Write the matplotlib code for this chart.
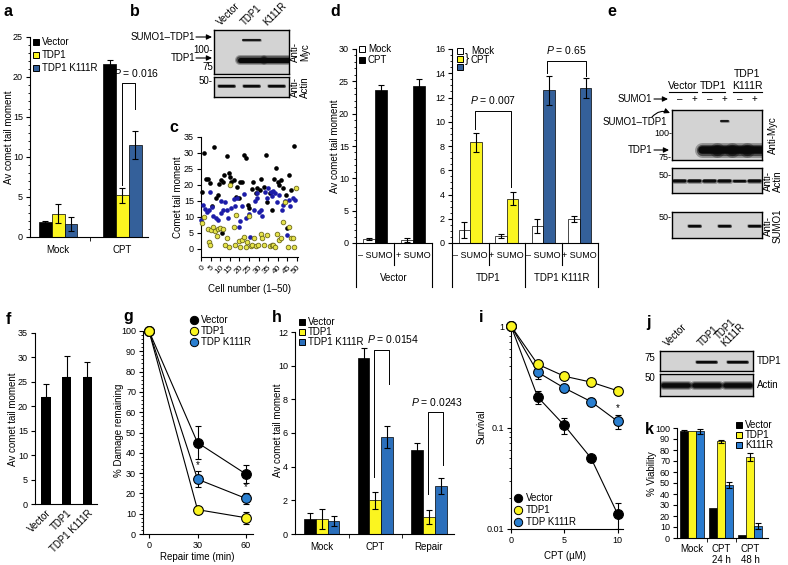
import numpy as np
import matplotlib
matplotlib.use("Agg")
import matplotlib.pyplot as plt
from matplotlib.ticker import MultipleLocator, LogLocator, NullFormatter
from matplotlib.transforms import blended_transform_factory

plt.rcParams['font.family'] = ['Liberation Sans', 'DejaVu Sans']
plt.rcParams['font.size'] = 7
plt.rcParams['mathtext.fontset'] = 'custom'
plt.rcParams['mathtext.it'] = 'Liberation Sans:italic'
plt.rcParams['mathtext.rm'] = 'Liberation Sans'
plt.rcParams['axes.linewidth'] = 0.8
for k in ['xtick', 'ytick']:
    plt.rcParams[k + '.major.width'] = 0.8
    plt.rcParams[k + '.minor.width'] = 0.6
    plt.rcParams[k + '.major.size'] = 3
    plt.rcParams[k + '.minor.size'] = 1.5
    plt.rcParams[k + '.major.pad'] = 2
    plt.rcParams[k + '.labelsize'] = 6.5

# ---------------- data ----------------
# a
a_groups = ['Mock', 'CPT']
a_vector = [1.9, 21.6]
a_vector_err = [0.15, 0.5]
a_tdp1 = [2.9, 5.2]
a_tdp1_err = [1.2, 0.9]
a_k111r = [1.6, 11.5]
a_k111r_err = [0.85, 1.8]

# c  (cell number, comet tail moment)
c_vec_x = [0.7, 1.5, 2.6, 3.9, 4.8, 5.6, 6.8, 7.9, 8.6, 9.6, 10.5, 10.9, 11.4, 12.1, 13.5, 14.4, 15.3,
           15.8, 17, 18.3, 19, 19.6, 20.5, 21.4, 22.3, 23.2, 24.4, 25, 26.4, 27, 28.4, 29.3, 30.5, 31.4,
           32.8, 33.7, 34.6, 35.8, 37.2, 38.1, 39, 39.9, 40.8, 41.7, 42.8, 44, 44.9, 45.6, 47, 48.4]
c_vec_y = [17.9, 29.9, 22, 22, 20.7, 13.5, 31.9, 15.8, 17, 20.2, 21.6, 5.1, 21, 23.1, 29.2, 23.6, 22.6,
           21, 21.6, 16.4, 19.5, 16, 21, 21, 29.4, 28.3, 13.8, 12.7, 18.6, 21, 17.4, 19, 18.4, 22,
           19.5, 29.4, 14.8, 17.4, 12.2, 22, 25.2, 21, 20, 21.6, 19, 16.9, 6.5, 23.1, 18.4, 32.2]
c_k111r_x = [0, 1.2, 2, 3, 4.2, 4.7, 5.6, 6.5, 7.7, 9.1, 10.2, 10.5, 11.2, 12.6, 13.5, 14, 15.8, 17,
             17.5, 18.8, 20, 20.5, 21.4, 22.3, 23.2, 25, 25.4, 27.5, 28, 29, 29.3, 30.2, 31, 31.9, 33.3,
             34.2, 35.1, 36.3, 37, 37.5, 38.4, 39.8, 40.7, 42, 42.8, 43.9, 44.6, 45.6, 46.5, 47.7, 49]
c_k111r_y = [9, 13.8, 12.5, 11.7, 12.3, 17.7, 13, 10.2, 9.7, 9.1, 11.2, 15.1, 12.3, 14.6, 12.3, 9.7, 12.8,
             15.6, 13.3, 16, 6.9, 8.6, 13.3, 17.3, 9.7, 10.8, 3.6, 12.2, 15.1, 16, 17.4, 11.7, 12.2, 10.3,
             17.9, 16, 19, 17.9, 16.5, 18.1, 17.6, 14.8, 16.9, 12.2, 13.8, 15.1, 4.4, 15.3, 13.4, 15.8, 15.3]
c_tdp1_x = [0.7, 1.8, 3.9, 4.2, 4.7, 5.3, 6.5, 7.4, 8.2, 9.1, 10, 11.2, 12.3, 13.5, 14.4, 15.3, 17, 17.5,
            18.4, 19.6, 20.5, 21.4, 22.3, 23.2, 24.1, 25, 25.8, 26.7, 27.5, 28.4, 29.8, 31, 31.9, 32.8,
            34.6, 35.8, 36.8, 37.5, 38.4, 39.8, 40.7, 41.6, 42.8, 43.9, 45.1, 46, 46.9, 47.7, 48.6, 49.5]
c_tdp1_y = [8.2, 9.9, 6.1, 2.3, 1.3, 5.9, 7, 5.7, 4.1, 6.1, 6.5, 6.1, 1.3, 3.3, 0.7, 20, 6.8, 1.3,
            10.6, 2.6, 0.7, 2.8, 3.9, 0.7, 2.3, 10.3, 0.9, 1.3, 3.3, 0.9, 1.3, 4.7, 3.3, 1.3,
            4.4, 0.9, 1.3, 1.3, 0.7, 4.7, 2.8, 3.3, 8.5, 14.8, 0.7, 7, 3.3, 3.3, 0.7, 19]

# d
d_vec_groups = ['– SUMO', '+ SUMO']
d_vec_mock = [0.6, 0.5]
d_vec_mock_err = [0.15, 0.3]
d_vec_cpt = [23.7, 24.3]
d_vec_cpt_err = [0.8, 1.0]
d_groups = ['– SUMO', '+ SUMO', '– SUMO', '+ SUMO']
d_mock = [1.05, 0.6, 1.4, 2.0]
d_mock_err = [0.65, 0.15, 0.55, 0.25]
d_cpt = [8.3, 3.65, 12.6, 12.8]
d_cpt_err = [0.8, 0.55, 1.2, 0.8]

# f
f_labels = ['Vector', 'TDP1', 'TDP1 K111R']
f_values = [22, 26, 26]
f_err = [2.5, 4.3, 3.0]

# g
g_time = [0, 30, 60]
g_vector = [100, 45, 29.5]
g_vector_err = [0, 8, 4.5]
g_tdp1 = [100, 12, 8]
g_tdp1_err = [0, 1, 3]
g_k111r = [100, 27, 17.5]
g_k111r_err = [0, 4, 2.5]

# h
h_groups = ['Mock', 'CPT', 'Repair']
h_vector = [0.9, 10.45, 5.0]
h_vector_err = [0.35, 0.6, 0.4]
h_tdp1 = [0.9, 2.0, 1.0]
h_tdp1_err = [0.6, 0.5, 0.4]
h_k111r = [0.75, 5.75, 2.85]
h_k111r_err = [0.3, 0.65, 0.5]

# i
i_dose = [0, 2.5, 5, 7.5, 10]
i_vector = [1, 0.2, 0.105, 0.05, 0.014]
i_vector_err = [0, 0.03, 0.018, 0.003, 0.004]
i_tdp1 = [1, 0.42, 0.32, 0.28, 0.23]
i_tdp1_err = [0, 0.03, 0.02, 0.02, 0.02]
i_k111r = [1, 0.35, 0.245, 0.18, 0.115]
i_k111r_err = [0, 0.05, 0.02, 0.015, 0.018]

# k
k_groups = ['Mock', 'CPT\n24 h', 'CPT\n48 h']
k_vector = [97, 27.5, 3]
k_vector_err = [1.5, 0, 0]
k_tdp1 = [97, 88, 73.5]
k_tdp1_err = [0, 1.5, 3.5]
k_k111r = [97, 48, 11]
k_k111r_err = [2, 2.5, 3]

YEL = '#fbf520'
BLUE_A = '#34609a'
BLUE_H = '#2b6fbb'
BLUE_K = '#2a7bcf'
BLUE_PT = '#2a7fd0'

W, H = 788, 565
fig = plt.figure(figsize=(W / 100, H / 100), dpi=100)

ov = fig.add_axes([0, 0, 1, 1], zorder=10)
ov.set_xlim(0, W)
ov.set_ylim(H, 0)
ov.axis('off')


def px_axes(x0, y0, x1, y1):
    return fig.add_axes([x0 / W, 1 - y1 / H, (x1 - x0) / W, (y1 - y0) / H])


def clean(ax):
    ax.spines['top'].set_visible(False)
    ax.spines['right'].set_visible(False)


def cat_axis(ax, labels, pad=4):
    n = len(labels)
    ax.set_xticks(range(n))
    ax.set_xticklabels(labels, fontsize=7)
    ax.set_xticks(np.arange(n - 1) + 0.5, minor=True)
    ax.tick_params(axis='x', which='major', length=0, pad=pad)
    ax.tick_params(axis='x', which='minor', length=3)


def bars(ax, series, errs, colors, width):
    n = len(series)
    offs = (np.arange(n) - (n - 1) / 2) * width
    for vals, err, col, off in zip(series, errs, colors, offs):
        x = np.arange(len(vals)) + off
        ax.bar(x, vals, width, color=col, edgecolor='black', linewidth=0.5, zorder=2)
        err = np.asarray(err, float)
        m = err > 0
        ax.errorbar(x[m], np.asarray(vals, float)[m], yerr=err[m], fmt='none', ecolor='black',
                    elinewidth=0.8, capsize=2.5, capthick=0.8, zorder=3)


def bracket(ax, x0, x1, y0, y1, top, label, tx, ty):
    ax.plot([x0, x0, x1, x1], [y0, top, top, y1], color='black', lw=0.7, clip_on=False, zorder=4)
    ax.text(tx, ty, label, ha='center', va='bottom', fontsize=7.5)


def blot(x0, y0, x1, y1, n):
    ax = px_axes(x0, y0, x1, y1)
    ax.set_xlim(0, n)
    ax.set_ylim(1, 0)
    ax.set_xticks([])
    ax.set_yticks([])
    ax.set_facecolor('#d3d3d3')
    for s in ax.spines.values():
        s.set_linewidth(1.0)
    return ax


def band(ax, lane, y, thick, half=0.4):
    for f, a in [(1.0, 0.3), (0.75, 0.55), (0.5, 1.0)]:
        ax.plot([lane + 0.5 - half, lane + 0.5 + half], [y, y], lw=thick * 0.72 * f,
                color='#0a0a0a', alpha=a, solid_capstyle='round')


def key(x, y, label, fc, ec='black', marker='s', ms=4.5, dx=6):
    ov.plot([x], [y], marker=marker, ms=ms, mfc=fc, mec=ec, mew=0.7, ls='none')
    if label:
        ov.text(x + dx, y, label, va='center', ha='left')


def arrow(x0, y0, x1, y1, rad=0.0):
    ov.annotate('', xy=(x1, y1), xytext=(x0, y0),
                arrowprops=dict(arrowstyle='-|>,head_length=0.45,head_width=0.22', lw=0.8,
                                color='black', shrinkA=0, shrinkB=0,
                                connectionstyle='arc3,rad=%s' % rad))


def letter(x, y, s):
    ov.text(x, y, s, fontsize=11.5, fontweight='bold', ha='center', va='center')


# ---------------- a ----------------
ax = px_axes(30, 37, 148, 237)
clean(ax)
bars(ax, [a_vector, a_tdp1, a_k111r], [a_vector_err, a_tdp1_err, a_k111r_err],
     ['black', YEL, BLUE_A], 0.2)
ax.set_ylim(0, 25)
cat_axis(ax, a_groups, pad=6)
ax.set_xlim(-0.44, 1.4)
ax.yaxis.set_major_locator(MultipleLocator(5))
ax.yaxis.set_minor_locator(MultipleLocator(1))
bracket(ax, 1.0, 1.2, 6.5, 16.0, 19.3, '$P$ = 0.016', 1.22, 19.7)
key(36, 42, 'Vector', 'black')
key(36, 55, 'TDP1', YEL)
key(36, 68, 'TDP1 K111R', BLUE_A)
ov.text(9, 137, 'Av comet tail moment', rotation=90, ha='center', va='center')
letter(8, 12, 'a')

# ---------------- b ----------------
bt = blot(214, 30, 289, 74, 3)
band(bt, 1, 0.23, 3, half=0.33)
band(bt, 1, 0.68, 10, half=0.45)
band(bt, 2, 0.68, 10, half=0.45)
bb = blot(214, 77, 289, 97, 3)
for ln in range(3):
    band(bb, ln, 0.45, 4, half=0.3)
for xl, s in [(222, 'Vector'), (246, 'TDP1'), (269, 'K111R')]:
    ov.text(xl, 27, s, rotation=45, ha='left', va='bottom', rotation_mode='anchor')
ov.text(195, 37, 'SUMO1–TDP1', ha='right', va='center')
arrow(196, 37, 212, 37)
ov.text(195, 58, 'TDP1', ha='right', va='center')
arrow(196, 58, 212, 58)
ov.text(213, 50, '100-', ha='right', va='center')
ov.text(213, 67, '75', ha='right', va='center')
ov.text(213, 81, '50-', ha='right', va='center')
ov.text(300, 52, 'Anti-\nMyc', rotation=90, ha='center', va='center', linespacing=1.0)
ov.text(300, 87, 'Anti-\nActin', rotation=90, ha='center', va='center', linespacing=1.0)
letter(135, 12, 'b')

# ---------------- c ----------------
ax = px_axes(201, 137, 298, 257)
clean(ax)
ax.scatter(c_vec_x, c_vec_y, s=11, c='black', lw=0, clip_on=False, zorder=3)
ax.scatter(c_k111r_x, c_k111r_y, s=11, c='#1c1ca8', lw=0, clip_on=False, zorder=3)
ax.scatter(c_tdp1_x, c_tdp1_y, s=11, c='#e6e44a', edgecolors='#6e6a1a', lw=0.6, clip_on=False, zorder=3)
ax.set_xlim(0, 50.5)
ax.set_ylim(-2.5, 35)
ax.set_yticks(range(0, 36, 5))
ax.set_xticks(range(0, 51, 5))
ax.set_xticklabels([str(v) for v in range(0, 51, 5)], rotation=45, ha='right',
                   rotation_mode='anchor', fontsize=6)
ov.text(178, 197, 'Comet tail moment', rotation=90, ha='center', va='center')
ov.text(250, 289, 'Cell number (1–50)', ha='center', va='center')
letter(174, 128, 'c')

# ---------------- d ----------------
def table(ax, longs, shorts, sub, subpos, groups, gpos, hpx):
    tr = blended_transform_factory(ax.transData, ax.transAxes)
    for x in longs:
        ax.plot([x, x], [0, -44 / hpx], color='black', lw=0.8, transform=tr, clip_on=False)
    for x in shorts:
        ax.plot([x, x], [0, -22 / hpx], color='black', lw=0.8, transform=tr, clip_on=False)
    for x, s in zip(subpos, sub):
        ax.text(x, -13 / hpx, s, transform=tr, ha='center', va='center', fontsize=6.5)
    for x, s in zip(gpos, groups):
        ax.text(x, -35 / hpx, s, transform=tr, ha='center', va='center')


axL = px_axes(356, 49, 432, 243)
clean(axL)
bars(axL, [d_vec_mock, d_vec_cpt], [d_vec_mock_err, d_vec_cpt_err], ['white', 'black'], 0.32)
axL.set_xlim(-0.5, 1.5)
axL.set_ylim(0, 30)
axL.set_xticks([])
axL.yaxis.set_major_locator(MultipleLocator(5))
axL.yaxis.set_minor_locator(MultipleLocator(1))
table(axL, [-0.5, 1.5], [0.5], d_vec_groups, [0, 1], ['Vector'], [0.5], 194)

axR = px_axes(452, 49, 598, 243)
clean(axR)
xm = np.arange(len(d_mock)) - 0.16
xc = np.arange(len(d_cpt)) + 0.16
axR.bar(xm, d_mock, 0.32, color='white', edgecolor='black', linewidth=0.5, zorder=2)
axR.bar(xc, d_cpt, 0.32, color=[YEL, YEL, BLUE_A, BLUE_A], edgecolor='black', linewidth=0.5, zorder=2)
axR.errorbar(xm, d_mock, yerr=d_mock_err, fmt='none', ecolor='black', elinewidth=0.8, capsize=2.5, capthick=0.8, zorder=3)
axR.errorbar(xc, d_cpt, yerr=d_cpt_err, fmt='none', ecolor='black', elinewidth=0.8, capsize=2.5, capthick=0.8, zorder=3)
axR.set_xlim(-0.5, 3.5)
axR.set_ylim(0, 16)
axR.set_xticks([])
axR.yaxis.set_major_locator(MultipleLocator(2))
axR.yaxis.set_minor_locator(MultipleLocator(0.5))
table(axR, [-0.5, 1.5, 3.5], [0.5, 2.5], d_groups, [0, 1, 2, 3], ['TDP1', 'TDP1 K111R'], [0.5, 2.5], 194)
bracket(axR, 0.12, 1.12, 9.4, 4.6, 10.9, '$P$ = 0.007', 0.62, 11.3)
bracket(axR, 2.1, 3.18, 14.0, 13.8, 15.0, '$P$ = 0.65', 2.64, 15.4)

key(362, 49, 'Mock', 'white', dx=6)
key(362, 60, 'CPT', 'black', dx=6)
key(460, 51, 'Mock', 'white', dx=11)
key(460, 59, None, YEL)
key(460, 67, None, BLUE_A)
ov.text(465, 59, '}', ha='left', va='center', fontsize=9)
ov.text(471, 60, 'CPT', ha='left', va='center')
ov.text(335, 146, 'Av comet tail moment', rotation=90, ha='center', va='center')
letter(335, 12, 'd')

# ---------------- e ----------------
et = blot(672, 110, 762, 160, 6)
band(et, 3, 0.22, 3, half=0.25)
for ln in [2, 3, 4, 5]:
    band(et, ln, 0.8, 15, half=0.5)
em = blot(672, 168, 762, 193, 6)
for ln in range(6):
    band(em, ln, 0.5, 4 if ln == 4 else 5, half=0.38)
eb = blot(672, 212, 762, 238, 6)
for ln in [1, 3, 5]:
    band(eb, ln, 0.55, 4, half=0.35)
for cx, s, x0, x1 in [(683, 'Vector', 669, 697), (713, 'TDP1', 702, 725), (747, 'K111R', 733, 762)]:
    ov.text(cx, 86, s, ha='center', va='center', fontsize=7.5)
    ov.plot([x0, x1], [92, 92], color='black', lw=0.8)
ov.text(747, 74, 'TDP1', ha='center', va='center', fontsize=7.5)
for j, s in enumerate(['–', '+', '–', '+', '–', '+']):
    ov.text(679.5 + 15 * j, 99, s, ha='center', va='center', fontsize=7)
ov.text(652, 99, 'SUMO1', ha='right', va='center')
arrow(654, 99, 668, 99)
ov.text(667, 122, 'SUMO1–TDP1', ha='right', va='center')
arrow(652, 117, 670, 113, rad=-0.35)
ov.text(672, 134, '100-', ha='right', va='center', fontsize=6.5)
ov.text(652, 150, 'TDP1', ha='right', va='center')
arrow(654, 150, 669, 150)
ov.text(672, 157, '75-', ha='right', va='center', fontsize=6.5)
ov.text(672, 175, '50-', ha='right', va='center', fontsize=6.5)
ov.text(672, 217, '50-', ha='right', va='center', fontsize=6.5)
ov.text(773, 135, 'Anti-Myc', rotation=90, ha='center', va='center')
ov.text(773, 181, 'Anti-\nActin', rotation=90, ha='center', va='center', linespacing=1.0)
ov.text(773, 226, 'Anti-\nSUMO1', rotation=90, ha='center', va='center', linespacing=1.0)
letter(612, 12, 'e')

# ---------------- f ----------------
ax = px_axes(35, 333, 97, 504)
clean(ax)
ax.bar(range(len(f_values)), f_values, 0.46, color='black', zorder=2)
ax.errorbar(range(len(f_values)), f_values, yerr=[np.zeros(len(f_err)), f_err], fmt='none',
            ecolor='black', elinewidth=0.8, capsize=2.5, capthick=0.8, zorder=3)
ax.set_xlim(-0.53, 2.46)
ax.set_ylim(0, 35)
ax.yaxis.set_major_locator(MultipleLocator(5))
ax.set_xticks(range(len(f_labels)))
ax.set_xticklabels(f_labels, rotation=45, ha='right', rotation_mode='anchor', fontsize=7)
ax.tick_params(axis='x', length=0, pad=3)
ov.text(13, 419, 'Av comet tail moment', rotation=90, ha='center', va='center')
letter(8, 320, 'f')

# ---------------- g ----------------
ax = px_axes(143, 331, 253, 534)
clean(ax)
for vals, err, col in [(g_vector, g_vector_err, 'black'), (g_k111r, g_k111r_err, BLUE_PT),
                       (g_tdp1, g_tdp1_err, YEL)]:
    ax.errorbar(g_time, vals, yerr=err, fmt='none', ecolor='black', elinewidth=0.8, capsize=2.5,
                capthick=0.8, zorder=2)
    ax.plot(g_time, vals, '-', color='black', lw=0.8, zorder=3)
    ax.plot(g_time, vals, 'o', ms=7, mfc=col, mec='black', mew=0.8, zorder=4, clip_on=False)
ax.text(30, g_k111r[1] + g_k111r_err[1] + 0.5, '*', ha='center', va='bottom', fontsize=7)
ax.text(60, g_k111r[2] + g_k111r_err[2] + 0.5, '*', ha='center', va='bottom', fontsize=7)
ax.set_xlim(-3.7, 64.3)
ax.set_ylim(0, 100)
ax.set_xticks(g_time)
ax.yaxis.set_major_locator(MultipleLocator(10))
ax.yaxis.set_minor_locator(MultipleLocator(2))
key(194, 320, 'Vector', 'black', marker='o', ms=6, dx=7)
key(194, 331, 'TDP1', YEL, marker='o', ms=6, dx=7)
key(194, 342, 'TDP K111R', BLUE_PT, marker='o', ms=6, dx=7)
ov.text(119, 430, '% Damage remaining', rotation=90, ha='center', va='center')
ov.text(197, 557, 'Repair time (min)', ha='center', va='center')
letter(128, 317, 'g')

# ---------------- h ----------------
ax = px_axes(295, 332, 454, 534)
clean(ax)
bars(ax, [h_vector, h_tdp1, h_k111r], [h_vector_err, h_tdp1_err, h_k111r_err],
     ['black', YEL, BLUE_H], 0.22)
ax.set_ylim(0, 12)
cat_axis(ax, h_groups, pad=6)
ax.set_xlim(-0.5, 2.47)
ax.yaxis.set_major_locator(MultipleLocator(2))
bracket(ax, 0.98, 1.26, 3.4, 8.9, 10.95, '$P$ = 0.0154', 1.34, 11.2)
bracket(ax, 1.98, 2.26, 2.4, 4.1, 7.22, '$P$ = 0.0243', 2.15, 7.5)
key(302, 322, 'Vector', 'black')
key(302, 332, 'TDP1', YEL)
key(302, 342, 'TDP1 K111R', BLUE_H)
ov.text(278, 430, 'Av comet tail moment', rotation=90, ha='center', va='center')
letter(277, 318, 'h')

# ---------------- i ----------------
ax = px_axes(511, 326, 623, 529)
clean(ax)
for vals, err, col in [(i_vector, i_vector_err, 'black'), (i_k111r, i_k111r_err, BLUE_PT),
                       (i_tdp1, i_tdp1_err, YEL)]:
    ax.errorbar(i_dose, vals, yerr=err, fmt='none', ecolor='black', elinewidth=0.8, capsize=2.5,
                capthick=0.8, zorder=2)
    ax.plot(i_dose, vals, '-', color='black', lw=0.8, zorder=3)
    ax.plot(i_dose, vals, 'o', ms=7, mfc=col, mec='black', mew=0.8, zorder=4, clip_on=False)
ax.text(10, (i_k111r[4] + i_k111r_err[4]) * 1.05, '*', ha='center', va='bottom', fontsize=7)
ax.set_yscale('log')
ax.set_ylim(0.01, 1)
ax.set_xlim(0, 10.5)
ax.set_xticks([0, 5, 10])
ax.set_yticks([0.01, 0.1, 1])
ax.set_yticklabels(['0.01', '0.1', '1'])
ax.yaxis.set_minor_locator(LogLocator(base=10, subs=np.arange(2, 10)))
ax.yaxis.set_minor_formatter(NullFormatter())
key(518, 498, 'Vector', 'black', marker='o', ms=6, dx=8)
key(518, 510, 'TDP1', YEL, marker='o', ms=6, dx=8)
key(518, 522, 'TDP K111R', BLUE_PT, marker='o', ms=6, dx=8)
ov.text(482, 427, 'Survival', rotation=90, ha='center', va='center')
ov.text(565, 556, 'CPT (µM)', ha='center', va='center')
letter(481, 318, 'i')

# ---------------- j ----------------
jt = blot(660, 351, 753, 371, 3)
for ln in [1, 2]:
    band(jt, ln, 0.55, 4, half=0.32)
jb = blot(660, 374, 753, 396, 3)
for ln in range(3):
    band(jb, ln, 0.5, 9, half=0.4)
for xl, s in [(669, 'Vector'), (703, 'TDP1'), (727, 'TDP1\nK111R')]:
    ov.text(xl, 348, s, rotation=45, ha='left', va='bottom', rotation_mode='anchor', linespacing=1.0)
ov.text(655, 358, '75', ha='right', va='center')
ov.text(655, 378, '50', ha='right', va='center')
ov.text(757, 361, 'TDP1', ha='left', va='center')
ov.text(757, 385, 'Actin', ha='left', va='center')
letter(649, 323, 'j')

# ---------------- k ----------------
ax = px_axes(677, 428, 768, 538)
clean(ax)
bars(ax, [k_vector, k_tdp1, k_k111r], [k_vector_err, k_tdp1_err, k_k111r_err],
     ['black', YEL, BLUE_K], 0.27)
ax.set_ylim(0, 100)
cat_axis(ax, k_groups, pad=4)
ax.set_xlim(-0.52, 2.62)
ax.yaxis.set_major_locator(MultipleLocator(10))
key(739, 425, 'Vector', 'black')
key(739, 435, 'TDP1', YEL)
key(739, 445, 'K111R', BLUE_K)
ov.text(652, 474, '% Viability', rotation=90, ha='center', va='center')
letter(649, 430, 'k')

fig.savefig('out.png', dpi=100)
